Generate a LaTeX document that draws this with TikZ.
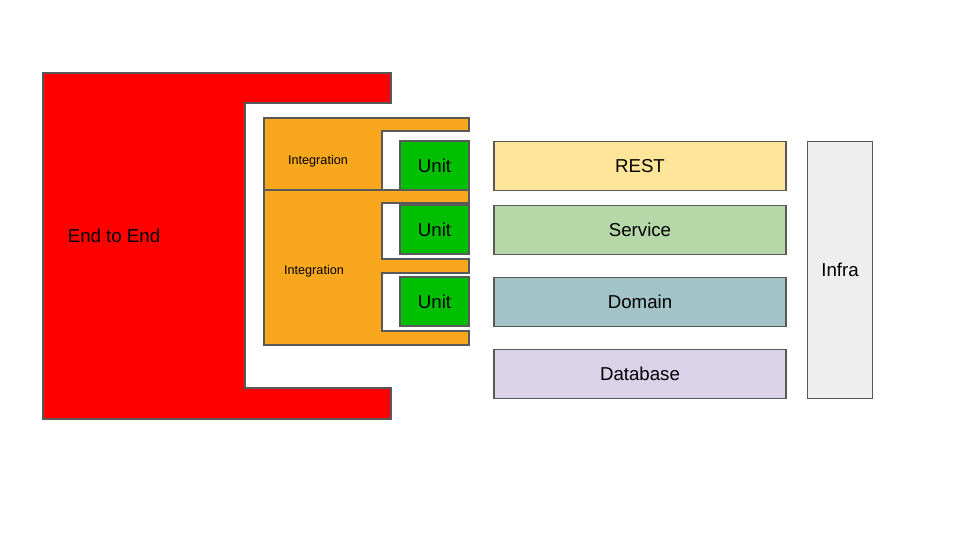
\documentclass[tikz,border=0pt]{standalone}
\usepackage{fontspec}
\setmainfont{Liberation Sans}
\definecolor{edge}{HTML}{595959}
\definecolor{e2ered}{HTML}{FF0000}
\definecolor{intorange}{HTML}{F9A81E}
\definecolor{unitgreen}{HTML}{00BF00}
\definecolor{restc}{HTML}{FFE599}
\definecolor{servc}{HTML}{B6D7A8}
\definecolor{domc}{HTML}{A2C4C9}
\definecolor{dbc}{HTML}{D9D2E9}
\definecolor{infrac}{HTML}{EEEEEE}
\tikzset{
  outline/.style={draw=edge, line width=0.9pt, line join=miter},
  layerbox/.style={outline, rectangle, inner sep=0pt, text depth=0pt, font=\fontsize{14}{16}\selectfont},
  lbl/.style={inner sep=0pt, text depth=0pt, font=\fontsize{14}{16}\selectfont},
  smalllbl/.style={inner sep=0pt, text depth=0pt, font=\fontsize{9.5}{11}\selectfont},
}
\begin{document}
\begin{tikzpicture}[x=0.75pt, y=-0.75pt]
\useasboundingbox (0,0) rectangle (960,540);
% End to End
\draw[outline, fill=e2ered] (43,73) -- (391,73) -- (391,103) -- (245,103) -- (245,388) -- (391,388) -- (391,419) -- (43,419) -- cycle;
\node[lbl] (e2e) at (114,236) {End to End};
% Integration 1
\draw[outline, fill=intorange] (264,118) -- (469,118) -- (469,131) -- (382,131) -- (382,190) -- (264,190) -- cycle;
\node[smalllbl] (int1) at (318,159.5) {Integration};
% Integration 2
\draw[outline, fill=intorange] (264,190) -- (469,190) -- (469,203) -- (382,203) -- (382,259) -- (469,259) -- (469,273) -- (382,273) -- (382,331) -- (469,331) -- (469,345) -- (264,345) -- cycle;
\node[smalllbl] (int2) at (314,269.5) {Integration};
% Units
\draw[outline, fill=unitgreen] (400,141) rectangle (469,190);
\node[lbl] (unit1) at (434.5,166) {Unit};
\draw[outline, fill=unitgreen] (400,205) rectangle (469,254);
\node[lbl] (unit2) at (434.5,230) {Unit};
\draw[outline, fill=unitgreen] (400,277) rectangle (469,326);
\node[lbl] (unit3) at (434.5,302) {Unit};
% Layers
\node[layerbox, fill=restc, minimum width=292*0.75pt, minimum height=49*0.75pt] (rest) at (640,166) {REST};
\node[layerbox, fill=servc, minimum width=292*0.75pt, minimum height=49*0.75pt] (service) at (640,230) {Service};
\node[layerbox, fill=domc, minimum width=292*0.75pt, minimum height=49*0.75pt] (domain) at (640,302) {Domain};
\node[layerbox, fill=dbc, minimum width=292*0.75pt, minimum height=49*0.75pt] (database) at (640,374) {Database};
\node[layerbox, fill=infrac, minimum width=65*0.75pt, minimum height=257*0.75pt] (infra) at (840,270) {Infra};
\end{tikzpicture}
\end{document}
